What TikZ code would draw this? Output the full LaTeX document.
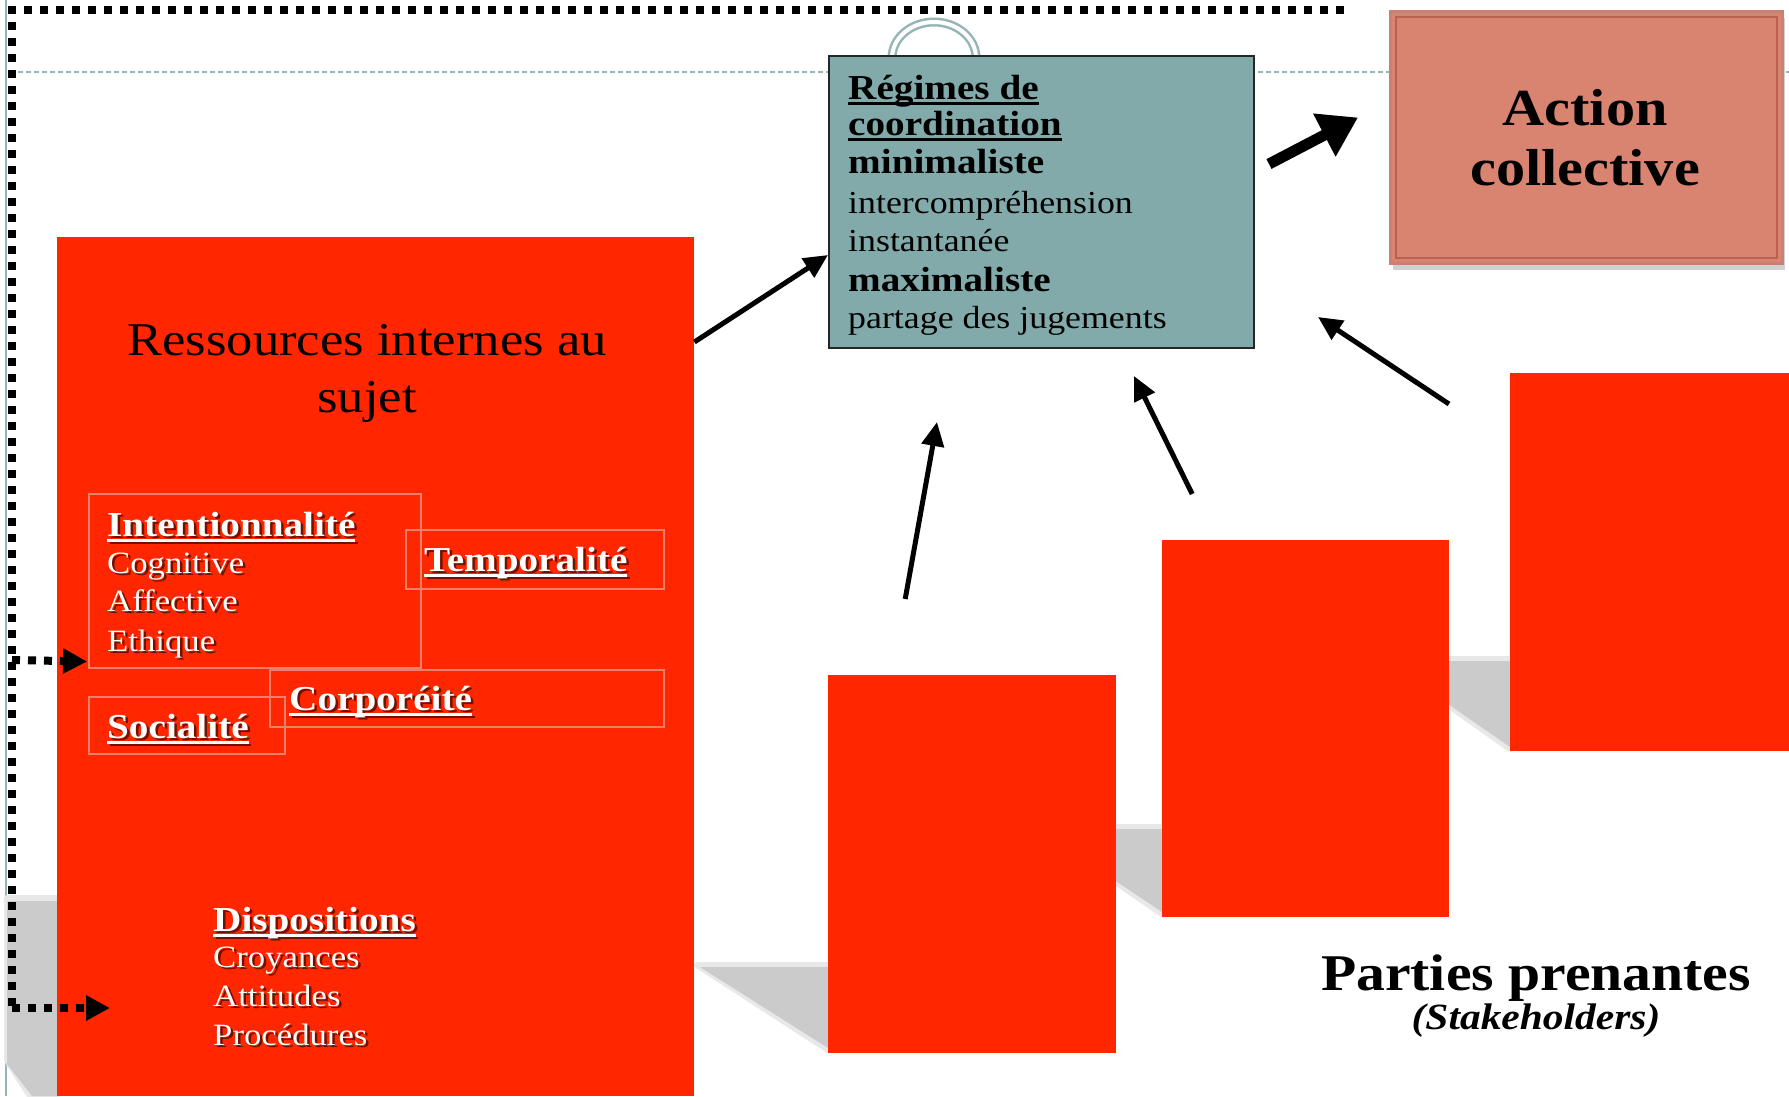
\documentclass[tikz,border=0pt]{standalone}
\usepackage{fontspec}
\setmainfont[FakeStretch=1.12]{Liberation Serif}
\usetikzlibrary{arrows.meta,shadows,calc}
\definecolor{redbox}{RGB}{255,38,0}
\definecolor{tealbox}{RGB}{130,170,170}
\definecolor{tealline}{RGB}{150,182,182}
\definecolor{actfill}{RGB}{217,131,113}
\definecolor{actline}{RGB}{185,98,82}
\definecolor{frameline}{RGB}{236,128,104}
\definecolor{shadowgrey}{RGB}{203,203,203}
\newcommand\myul[1]{\setbox0=\hbox{#1}\leavevmode\rlap{\rule[-0.16em]{\wd0}{0.07em}}\box0}
\newcommand\wline[5]{\node[wtxtsh,font=#5] (#1s) at ({#2+2.5},{#3+2.5}) {#4};\node[wtxt,font=#5] (#1) at (#2,#3) {#4};}
\begin{document}
\begin{tikzpicture}[x=1pt,y=-1pt,
  redrect/.style={fill=redbox, draw=none, anchor=north west, inner sep=0},
  frame/.style={draw=frameline, line width=1.5pt, anchor=north west, inner sep=0},
  wtxt/.style={anchor=base west, inner sep=0, text=white},
  wtxtsh/.style={anchor=base west, inner sep=0, text=black, opacity=0.55},
  btxt/.style={anchor=base west, inner sep=0, text=black},
  thinarrow/.style={line width=5pt, -{Triangle[length=24pt,width=22pt]}},
  dotline/.style={line width=8pt, dash pattern=on 8pt off 8pt, black},
  dotarrow/.style={dotline, -{Triangle[length=24pt,width=24pt]}},
  shsoft/.style={fill=shadowgrey!45, draw=shadowgrey!45, line width=6pt, line join=round},
  shcore/.style={fill=shadowgrey, draw=none},
  fR/.style={font=\fontsize{32}{38}\selectfont},
  fB/.style={font=\fontsize{35}{38}\selectfont\bfseries}
]
\useasboundingbox (0,0) rectangle (1789,1096);
\fill[white] (0,0) rectangle (1789,1096);
% slide guide lines
\draw[tealline, line width=2pt] (6,0) -- (6,1096);
\draw[tealline, line width=1.5pt, dash pattern=on 5pt off 3pt] (10,72) -- (1789,72);
% shadows
\fill[shsoft] (7,898) -- (57,898) -- (57,1096) -- (30,1096) -- (7,1060) -- cycle;
\fill[shcore] (7,901) -- (57,901) -- (57,1096) -- (32,1096) -- (7,1064) -- cycle;
\fill[shsoft] (697,965) -- (828,965) -- (828,1050) -- cycle;
\fill[shcore] (700,967) -- (828,967) -- (828,1048) -- cycle;
\fill[shsoft] (1035,827) -- (1162,827) -- (1162,914) -- cycle;
\fill[shcore] (1038,829) -- (1162,829) -- (1162,912) -- cycle;
\fill[shsoft] (1383,659) -- (1510,659) -- (1510,749) -- cycle;
\fill[shcore] (1386,661) -- (1510,661) -- (1510,747) -- cycle;
% handle arc
\draw[tealline, line width=2.5pt, double=white, double distance=4pt] (892,58) arc[start angle=180, end angle=360, x radius=42, y radius=36];
% red boxes
\node[redrect, minimum width=637pt, minimum height=859pt] (big) at (57,237) {};
\node[redrect, minimum width=288pt, minimum height=378pt] (b1) at (828,675) {};
\node[redrect, minimum width=287pt, minimum height=377pt] (b2) at (1162,540) {};
\node[redrect, minimum width=279pt, minimum height=378pt] (b3) at (1510,373) {};
% teal box
\node[fill=tealbox, draw=black!85, line width=2pt, anchor=north west, inner sep=0, minimum width=425pt, minimum height=292pt] (teal) at (828,55) {};
% action box
\node[fill=actfill, draw=actline!80, line width=3pt, anchor=north west, inner sep=0, minimum width=392pt, minimum height=252pt, drop shadow={shadow xshift=2pt, shadow yshift=-6pt, opacity=0.3, fill=black!60}] (act) at (1389,10) {};
\draw[actline, line width=2pt] ($(act.north west)+(7,7)$) rectangle ($(act.south east)+(-7,-7)$);
% inner frames
\node[frame, minimum width=332pt, minimum height=174pt] (intbox) at (88,493) {};
\node[frame, minimum width=258pt, minimum height=59pt] (tempbox) at (405,529) {};
\node[frame, minimum width=394pt, minimum height=57pt] (corpbox) at (269,669) {};
\node[frame, minimum width=196pt, minimum height=57pt] (socbox) at (88,696) {};
% texts in teal box
\node[btxt, fB] (t1) at (848,99) {\myul{Régimes de}};
\node[btxt, fB] (t2) at (848,135) {\myul{coordination}};
\node[btxt, fB] (t3) at (848,173) {minimaliste};
\node[btxt, fR] (t4) at (848,213) {intercompréhension};
\node[btxt, fR] (t5) at (848,251) {instantanée};
\node[btxt, fB] (t6) at (848,291) {maximaliste};
\node[btxt, fR] (t7) at (848,328) {partage des jugements};
% Ressources
\node[btxt, anchor=base, font=\fontsize{47}{56}\selectfont] (res1) at (367,355) {Ressources internes au};
\node[btxt, anchor=base, font=\fontsize{47}{56}\selectfont] (res2) at (367,412) {sujet};
% white texts
\wline{int}{107}{536}{\myul{Intentionnalité}}{\fontsize{35}{38}\selectfont\bfseries}
\wline{cog}{107}{573}{Cognitive}{\fontsize{31}{38}\selectfont}
\wline{aff}{107}{611}{Affective}{\fontsize{31}{38}\selectfont}
\wline{eth}{107}{651}{Ethique}{\fontsize{31}{38}\selectfont}
\wline{temp}{424}{571}{\myul{Temporalité}}{\fontsize{35}{38}\selectfont\bfseries}
\wline{corp}{289}{710}{\myul{Corporéité}}{\fontsize{35}{38}\selectfont\bfseries}
\wline{soc}{107}{738}{\myul{Socialité}}{\fontsize{35}{38}\selectfont\bfseries}
\wline{disp}{213}{931}{\myul{Dispositions}}{\fontsize{35}{38}\selectfont\bfseries}
\wline{croy}{213}{967}{Croyances}{\fontsize{31}{38}\selectfont}
\wline{att}{213}{1006}{Attitudes}{\fontsize{31}{38}\selectfont}
\wline{proc}{213}{1045}{Procédures}{\fontsize{31}{38}\selectfont}
% action text
\node[btxt, anchor=base, font=\fontsize{52}{60}\selectfont\bfseries] (a1) at (1585,125) {Action};
\node[btxt, anchor=base, font=\fontsize{52}{60}\selectfont\bfseries] (a2) at (1585,185) {collective};
% parties prenantes
\node[btxt, anchor=base, font=\fontsize{51.5}{58}\selectfont\bfseries] (pp) at (1536,990) {Parties prenantes};
\node[btxt, anchor=base, font=\fontsize{37}{40}\selectfont\bfseries\itshape] (sh) at (1536,1029) {(Stakeholders)};
% arrows
\draw[thinarrow] ($(big.north east)+(0,105)$) -- ($(teal.south west)+(0,-94)$);
\draw[thinarrow] ($(b1.north)+(-67,-76)$) -- ($(teal.south)+(-104.5,73)$);
\draw[thinarrow] ($(b2.north)+(-113.5,-46)$) -- ($(teal.south)+(92.5,27)$);
\draw[thinarrow] ($(b3.north west)+(-61,31)$) -- ($(teal.south east)+(63,-32)$);
\draw[line width=11pt, -{Triangle[length=38pt,width=46pt]}] ($(teal.east)+(14,-38)$) -- ($(act.west)+(-31,-20)$);
% dotted feedback
\coordinate (dtr) at (1344,10);
\coordinate (dtl) at (12,10);
\coordinate (dbl) at (12,1008);
\coordinate (dmid) at (12,660);
\draw[dotline] (dtr) -- (dtl) -- (dbl);
\draw[dotarrow] (dmid) -- ($(intbox.south west)+(-1,-7)$);
\draw[dotarrow] (dbl) -- ($(dbl)+(98,0)$);
\end{tikzpicture}
\end{document}
